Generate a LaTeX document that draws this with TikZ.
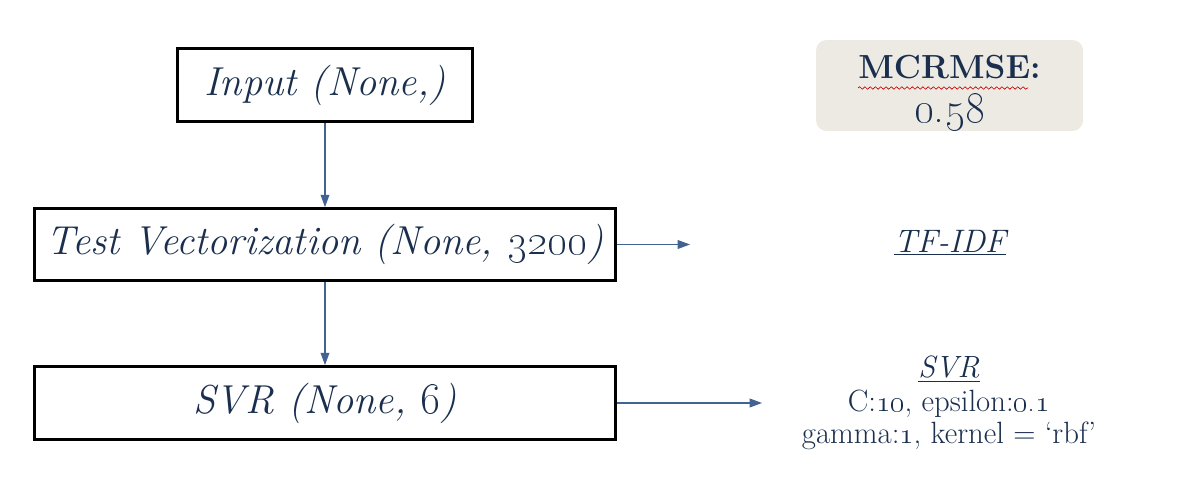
\documentclass[tikz,border=0pt]{standalone}
\usepackage{tikz}
\usetikzlibrary{arrows.meta, decorations.pathmorphing, positioning}

\definecolor{navytext}{RGB}{26,47,78}
\definecolor{linkblue}{RGB}{66,98,146}
\definecolor{scorebg}{RGB}{237,234,227}

\tikzset{
    layerbox/.style={draw=black, line width=1.6pt, inner sep=0pt, text=navytext,
        font=\fontsize{23}{27}\selectfont\itshape},
    flow/.style={linkblue, line width=0.6pt, -{Triangle[length=7pt, width=5pt]}},
    sidetext/.style={text=navytext, align=center, font=\fontsize{17.5}{18.2}\selectfont},
}

\begin{document}
\begin{tikzpicture}[x=0.02cm, y=0.02cm]
    \useasboundingbox (0,0) rectangle (1200,490);

    % Model layers
    \node[layerbox, minimum width=5.9cm, minimum height=1.46cm] (input) at (325, 405) {Input (None,)};
    \node[layerbox, minimum width=11.62cm, minimum height=1.44cm] (vector) at (325, 245.5) {Test Vectorization (None, \oldstylenums{3200})};
    \node[layerbox, minimum width=11.62cm, minimum height=1.46cm] (svr) at (325, 87) {SVR (None, \oldstylenums{6})};

    % Score box
    \node[fill=scorebg, rounded corners=6pt, minimum width=5.34cm, minimum height=1.82cm] (score) at (949.5, 404.5) {};
    \node[sidetext, font=\fontsize{19}{22}\selectfont, anchor=north] (scoretext) at (949.5, 441)
        {\textbf{MCRMSE:}\\[3pt] {\fontsize{24}{24}\selectfont\oldstylenums{0.58}}};
    \draw[red!75!black, line width=0.35pt, decorate,
        decoration={snake, amplitude=0.7pt, segment length=3pt}]
        (858, 402) coordinate (wavyL) -- (1028, 402) coordinate (wavyR);

    % Settings on the right
    \node[sidetext, font=\fontsize{18.5}{22}\selectfont] (tfidf) at (950, 247) {\textit{\underline{TF-IDF}}};
    \node[sidetext, anchor=north] (params) at (949, 140)
        {\textit{\underline{SVR}}\\[1pt]
         C:\oldstylenums{10}, epsilon:\oldstylenums{0.1}\\
         gamma:\oldstylenums{1}, kernel = `rbf'};

    % Arrow ends
    \coordinate (vecend) at (690, 245.5);
    \coordinate (svrend) at (762, 87);

    % Connectors
    \draw[flow] (input) -- (vector);
    \draw[flow] (vector) -- (svr);
    \draw[flow] (vector.east) -- (vecend);
    \draw[flow] (svr.east) -- (svrend);
\end{tikzpicture}
\end{document}
